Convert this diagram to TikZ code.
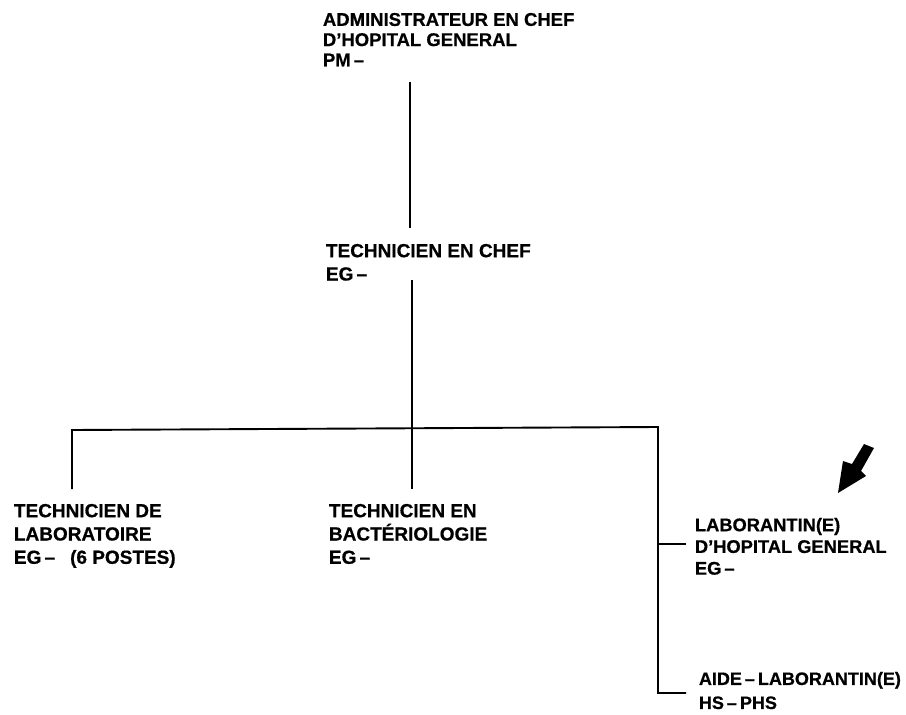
\documentclass[tikz,border=0pt]{standalone}
\usepackage{fontspec}
\setmainfont{Liberation Sans}[BoldFeatures={FakeBold=0.6}]
\begin{document}
\begin{tikzpicture}[x=1pt,y=-1pt,line width=1.9pt,
  lbl/.style={anchor=north west,inner sep=0pt,align=left},
  fa/.style={lbl,font=\bfseries\fontsize{18.5}{20.2}\selectfont},
  fb/.style={lbl,font=\bfseries\fontsize{19}{23.3}\selectfont},
  fc/.style={lbl,font=\bfseries\fontsize{18.3}{21.7}\selectfont},
  fd/.style={lbl,font=\bfseries\fontsize{18}{24}\selectfont},
  conn/.style={draw=black,line cap=butt}]
\useasboundingbox (0,0) rectangle (906,715);
\fill[white] (0,0) rectangle (906,715);
\node[fa] (adm) at (322,12) {ADMINISTRATEUR EN CHEF\\D’HOPITAL GENERAL\\PM\,–};
\node[fb] (tchef) at (325,243) {TECHNICIEN EN CHEF\\EG\,–};
\node[fb] (tlab) at (13,503) {TECHNICIEN DE\\LABORATOIRE\\EG\,–\hspace{15pt}(6 POSTES)};
\node[fb] (tbac) at (328,503) {TECHNICIEN EN\\BACTÉRIOLOGIE\\EG\,–};
\node[fc] (labo) at (694,517) {LABORANTIN(E)\\D’HOPITAL GENERAL\\EG\,–};
\node[fd] (aide) at (698,671) {AIDE\hspace{3pt}–\hspace{3pt}LABORANTIN(E)\\HS\hspace{3pt}–\hspace{3pt}PHS};
\coordinate (a1) at (410,82);
\coordinate (a2) at (410,228);
\coordinate (b1) at (412,280);
\coordinate (b2) at (412,429);
\coordinate (hl) at (72,430);
\coordinate (hr) at (658,427);
\coordinate (tlabtop) at (72,489);
\coordinate (tbactop) at (412,489);
\coordinate (labojoin) at (658,544);
\coordinate (laboend) at (686,544);
\coordinate (aidejoin) at (658,693);
\coordinate (aideend) at (686,693);
\draw[conn] (a1) -- (a2);
\draw[conn] (b1) -- (b2);
\draw[conn] (tlabtop) -- (hl) -- (hr) -- (aidejoin) -- (aideend);
\draw[conn] (b2) -- (tbactop);
\draw[conn] (labojoin) -- (laboend);
\fill[black] (838,493) -- (843,461) -- (852,464) -- (864,444) -- (874,448) -- (861,471) -- (866,476) -- cycle;
\end{tikzpicture}
\end{document}
